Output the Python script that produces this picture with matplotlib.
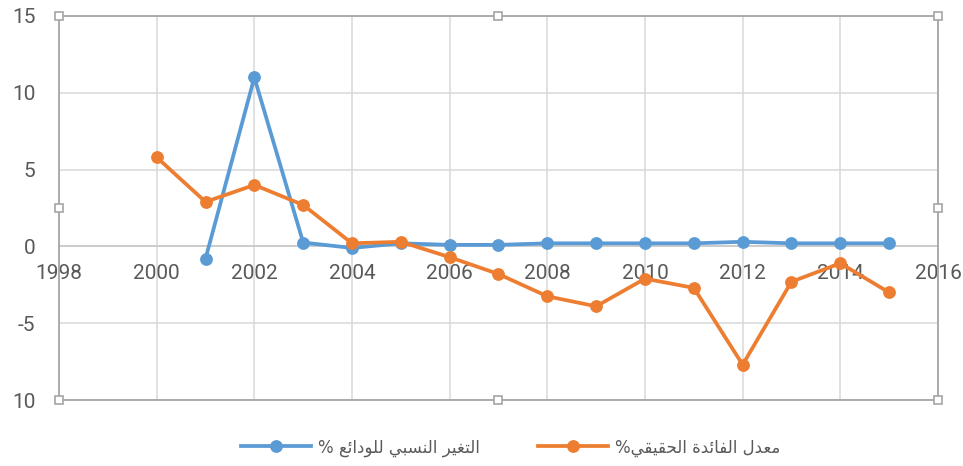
import matplotlib.pyplot as plt
from matplotlib.patches import Rectangle

years_dep = [2001, 2002, 2003, 2004, 2005, 2006, 2007, 2008, 2009, 2010,
             2011, 2012, 2013, 2014, 2015]
deposits = [-0.8, 11.0, 0.25, -0.1, 0.2, 0.1, 0.1, 0.2, 0.2, 0.2,
            0.2, 0.3, 0.2, 0.2, 0.2]

years_rate = [2000, 2001, 2002, 2003, 2004, 2005, 2006, 2007, 2008, 2009,
              2010, 2011, 2012, 2013, 2014, 2015]
real_rate = [5.8, 2.9, 4.0, 2.7, 0.2, 0.3, -0.7, -1.8, -3.25, -3.9,
             -2.1, -2.7, -7.7, -2.3, -1.1, -3.0]

x_ticks = list(range(1998, 2017, 2))
y_ticks = [15, 10, 5, 0, -5, -10]
y_labels = ['15', '10', '5', '0', '-5', '10']

label_dep = 'التغير النسبي للودائع %'
label_rate = 'معدل الفائدة الحقيقي%'

# matplotlib has no arabic shaping, so pick presentation forms by hand
# letter: (isolated, final, initial, medial); None = only joins to the right
FORMS = {
    'ا': (0xFE8D, 0xFE8E, None, None),
    'ب': (0xFE8F, 0xFE90, 0xFE91, 0xFE92),
    'ة': (0xFE93, 0xFE94, None, None),
    'ت': (0xFE95, 0xFE96, 0xFE97, 0xFE98),
    'ح': (0xFEA1, 0xFEA2, 0xFEA3, 0xFEA4),
    'د': (0xFEA9, 0xFEAA, None, None),
    'ر': (0xFEAD, 0xFEAE, None, None),
    'س': (0xFEB1, 0xFEB2, 0xFEB3, 0xFEB4),
    'ع': (0xFEC9, 0xFECA, 0xFECB, 0xFECC),
    'غ': (0xFECD, 0xFECE, 0xFECF, 0xFED0),
    'ف': (0xFED1, 0xFED2, 0xFED3, 0xFED4),
    'ق': (0xFED5, 0xFED6, 0xFED7, 0xFED8),
    'ل': (0xFEDD, 0xFEDE, 0xFEDF, 0xFEE0),
    'م': (0xFEE1, 0xFEE2, 0xFEE3, 0xFEE4),
    'ن': (0xFEE5, 0xFEE6, 0xFEE7, 0xFEE8),
    'و': (0xFEED, 0xFEEE, None, None),
    'ي': (0xFEF1, 0xFEF2, 0xFEF3, 0xFEF4),
    'ئ': (0xFE89, 0xFE8A, 0xFE8B, 0xFE8C),
}


def shape(text):
    out = []
    for i, ch in enumerate(text):
        if ch not in FORMS:
            out.append(ch)
            continue
        prev = text[i - 1] if i > 0 else ''
        nxt = text[i + 1] if i + 1 < len(text) else ''
        join_prev = prev in FORMS and FORMS[prev][2] is not None
        join_next = nxt in FORMS and FORMS[ch][2] is not None
        iso, fin, ini, med = FORMS[ch]
        if join_prev and join_next:
            code = med
        elif join_prev:
            code = fin
        elif join_next:
            code = ini
        else:
            code = iso
        out.append(chr(code))
    return ''.join(out)[::-1]


grey = '#595959'
blue = '#5b9bd5'
orange = '#ed7d31'

fig = plt.figure(figsize=(9.63, 4.66), dpi=100)
ax = fig.add_axes([0.0613, 0.1416, 0.9127, 0.8241])

ax.plot(years_dep, deposits, color=blue, lw=2.7, marker='o', ms=8.2,
        label=shape(label_dep), zorder=4)
ax.plot(years_rate, real_rate, color=orange, lw=2.7, marker='o', ms=8.2,
        label=shape(label_rate), zorder=5)

ax.set_xlim(1998, 2016)
ax.set_ylim(-10, 15)
ax.set_xticks(x_ticks)
ax.set_yticks(y_ticks)
ax.set_yticklabels(y_labels)
ax.grid(True, color='#d9d9d9', lw=1.1)
ax.set_axisbelow(True)

# horizontal axis crosses at zero, labels hang under it
for side in ['top', 'left', 'right']:
    ax.spines[side].set_visible(False)
ax.spines['bottom'].set_position(('data', 0))
ax.spines['bottom'].set_color('#c8c8c8')
ax.spines['bottom'].set_linewidth(1.2)
ax.tick_params(axis='x', length=0, pad=13, labelsize=15, labelcolor=grey)
ax.tick_params(axis='y', length=0, pad=17, labelsize=15, labelcolor=grey)
for lbl in ax.get_xticklabels() + ax.get_yticklabels():
    lbl.set_family('Roboto')

# plot-area frame with its handles
ax.add_patch(Rectangle((0, 0), 1, 1, transform=ax.transAxes, fill=False,
                       edgecolor='#a6a6a6', lw=1.3, clip_on=False, zorder=6))
hx = [0, 0.5, 1, 0, 1, 0, 0.5, 1]
hy = [1, 1, 1, 0.5, 0.5, 0, 0, 0]
ax.plot(hx, hy, ls='none', marker='s', ms=6, mfc='white', mec='#a6a6a6',
        mew=1.2, transform=ax.transAxes, clip_on=False, zorder=7)

fig.legend(loc='center', bbox_to_anchor=(0.53, 0.04), ncol=2, frameon=False,
           fontsize=12, labelcolor=grey, handlelength=4.2, columnspacing=3.5,
           handletextpad=0.4)

fig.savefig('out.png', dpi=100)
